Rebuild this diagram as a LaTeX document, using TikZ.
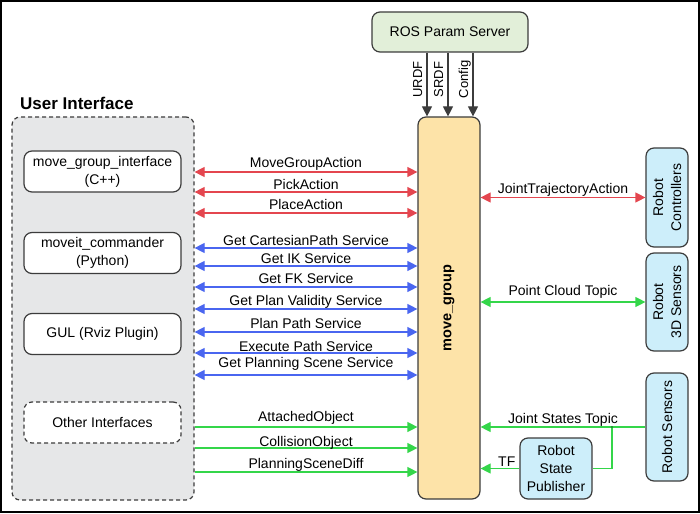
\documentclass[tikz,border=0pt]{standalone}
\usepackage{fontspec}
\setmainfont{Liberation Sans}
\usetikzlibrary{arrows.meta}
\definecolor{arrred}{HTML}{E4464F}
\definecolor{arrblue}{HTML}{4A66F0}
\definecolor{arrgreen}{HTML}{34D64A}
\definecolor{edge}{HTML}{3C3C3C}
\definecolor{uigray}{HTML}{E6E7E8}
\definecolor{mgfill}{HTML}{FDE3A8}
\definecolor{rosfill}{HTML}{E2EFD9}
\definecolor{robfill}{HTML}{CDEEFA}
\tikzset{
  box/.style={draw=edge, line width=1.2pt, rounded corners=8pt, align=center, inner sep=0pt},
  ifbox/.style={box, fill=white, minimum width=157pt, minimum height=41pt},
  robot/.style={box, fill=robfill},
  dashbox/.style={dash pattern=on 4pt off 3pt},
  conn/.style={line width=1.2pt},
  both/.style={conn, {Triangle[length=10pt,width=10pt]}-{Triangle[length=10pt,width=10pt]}},
  one/.style={conn, -{Triangle[length=10pt,width=10pt]}},
  lbl/.style={anchor=base, inner sep=0pt, text=black},
}
\begin{document}
\begin{tikzpicture}[x=1pt, y=-1pt, font=\fontsize{14}{18}\selectfont]
\useasboundingbox (0,0) rectangle (700,513);
\draw[line width=2pt] (1,1) rectangle (699,512);

\node[font=\fontsize{17}{20}\selectfont\bfseries, anchor=base west, inner sep=0pt] (uititle) at (20,110) {User Interface};
\node[box, dashbox, fill=uigray, minimum width=182pt, minimum height=383pt] (ui) at (103,308.5) {};
\node[ifbox] (mgi) at (102.5,171.5) {move\_group\_interface\\(C++)};
\node[ifbox] (mc) at (102.5,253) {moveit\_commander\\(Python)};
\node[ifbox] (gui) at (102.5,334) {GUL (Rviz Plugin)};
\node[ifbox, dashbox] (other) at (102.5,422.5) {Other Interfaces};

\node[box, fill=mgfill, minimum width=62pt, minimum height=382pt] (mg) at (449,308) {};
\node[rotate=90, font=\fontsize{14.5}{17}\selectfont\bfseries] (mgtext) at (mg.center) {move\_group};

\node[box, fill=rosfill, minimum width=156pt, minimum height=40pt] (ros) at (450,32) {ROS Param Server};

\node[robot, minimum width=42pt, minimum height=99pt] (rc) at (667,197.5) {};
\node[rotate=90, align=center] (rctext) at (rc.center) {Robot\\Controllers};
\node[robot, minimum width=42pt, minimum height=98pt] (r3d) at (667,302) {};
\node[rotate=90, align=center] (r3dtext) at (r3d.center) {Robot\\3D Sensors};
\node[robot, minimum width=42pt, minimum height=108pt] (rs) at (667,427) {};
\node[rotate=90] (rstext) at (rs.center) {Robot Sensors};
\node[robot, minimum width=72pt, minimum height=61pt] (rsp) at (556,468.5) {Robot\\State\\Publisher};

\foreach \x/\txt in {427/URDF, 448/SRDF, 473/Config}
  \draw[one, edge] (ros.south -| \x,0) -- node[lbl, pos=0.42, xshift=-5pt, rotate=90, font=\fontsize{13}{15}\selectfont] {\txt} (mg.north -| \x,0);

\foreach \y/\s/\txt in {172/4.5/MoveGroupAction, 192/3/PickAction, 213/4/PlaceAction}
  \draw[both, arrred] (ui.east |- 0,\y) -- node[lbl, yshift=\s pt] {\txt} (mg.west |- 0,\y);

\foreach \y/\s/\txt in {248/3/Get CartesianPath Service, 266/3/Get IK Service, 287/4/Get FK Service,
    309/4/Get Plan Validity Service, 332/4/Plan Path Service, 353/1.5/Execute Path Service,
    375/7.5/Get Planning Scene Service}
  \draw[both, arrblue] (ui.east |- 0,\y) -- node[lbl, yshift=\s pt] {\txt} (mg.west |- 0,\y);

\foreach \y/\s/\txt in {427/6/AttachedObject, 448/1.5/CollisionObject, 472/4/PlanningSceneDiff}
  \draw[one, arrgreen] (ui.east |- 0,\y) -- node[lbl, yshift=\s pt] {\txt} (mg.west |- 0,\y);

\draw[both, arrred] (mg.east |- rc.west) -- node[lbl, yshift=4.5pt] {JointTrajectoryAction} (rc.west);
\draw[both, arrgreen] (mg.east |- r3d.west) -- node[lbl, yshift=7pt] {Point Cloud Topic} (r3d.west);
\draw[one, arrgreen] (rs.west) -- node[lbl, yshift=4pt] {Joint States Topic} (mg.east |- rs.west);
\coordinate (jn) at (612,427);
\draw[conn, arrgreen] (jn) |- (rsp.east);
\fill[arrgreen!60!black] (jn) circle (1.2pt);
\draw[one, arrgreen] (rsp.west) -- node[lbl, pos=0.325, yshift=2pt] {TF} (mg.east |- rsp.west);
\end{tikzpicture}
\end{document}
